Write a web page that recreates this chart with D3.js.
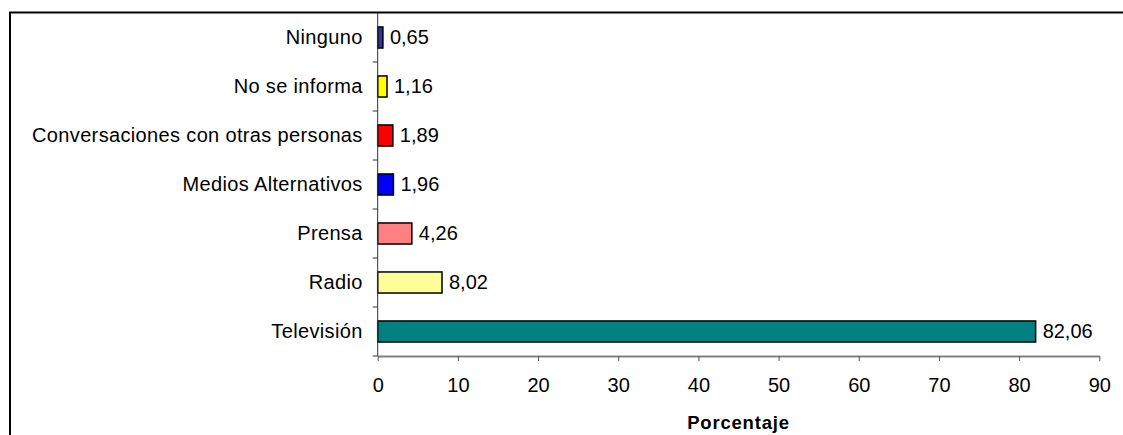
<!DOCTYPE html>
<html>
<head>
<meta charset="utf-8">
<script src="https://cdn.jsdelivr.net/npm/d3@7"></script>
<style>
  body { margin: 0; background: #fff; }
  svg { display: block; font-family: "Liberation Sans", Arial, sans-serif; }
</style>
</head>
<body>
<div id="chart"></div>
<script>
// Chart data
const categories = ['Ninguno', 'No se informa', 'Conversaciones con otras personas',
    'Medios Alternativos', 'Prensa', 'Radio', 'Televisión'];
const values = [0.65, 1.16, 1.89, 1.96, 4.26, 8.02, 82.06];
const barColors = ['#333399', '#FFFF00', '#FF0000', '#0000FF', '#FF8080', '#FFFF99', '#008080'];
const xTicks = [0, 10, 20, 30, 40, 50, 60, 70, 80, 90];
const xTitle = 'Porcentaje';

const width = 1123, height = 435;
const margin = { top: 13, left: 377.7, right: 23.7, bottom: 79 };

const svg = d3.select('#chart')
    .append('svg')
    .attr('width', width)
    .attr('height', height);

// frame (only left and top edges visible)
svg.append('path')
    .attr('d', `M10,${height} L10,12.5 L${width},12.5`)
    .attr('fill', 'none')
    .attr('stroke', '#000')
    .attr('stroke-width', 2);

const xScale = d3.scaleLinear()
    .domain([0, 90])
    .range([margin.left, width - margin.right]);

const yScale = d3.scaleBand()
    .domain(categories)
    .range([margin.top, height - margin.bottom])
    .paddingInner(0.57)
    .paddingOuter(0.285);

const rows = categories.map((c, i) => ({ cat: c, value: values[i], color: barColors[i] }));

// bars
svg.selectAll('rect.bar')
    .data(rows)
    .enter()
    .append('rect')
    .attr('class', 'bar')
    .attr('x', xScale(0))
    .attr('y', d => yScale(d.cat))
    .attr('width', d => xScale(d.value) - xScale(0))
    .attr('height', yScale.bandwidth())
    .attr('fill', d => d.color)
    .attr('stroke', '#000')
    .attr('stroke-width', 1.5);

// value labels
svg.selectAll('text.val')
    .data(rows)
    .enter()
    .append('text')
    .attr('class', 'val')
    .attr('x', d => xScale(d.value) + 7)
    .attr('y', d => yScale(d.cat) + yScale.bandwidth() / 2 + 6)
    .attr('font-size', '20px')
    .attr('fill', '#000')
    .text(d => d.value.toFixed(2).replace('.', ','));

// y axis: line + ticks between categories
const yAxisG = svg.append('g');
const yBottom = height - margin.bottom;
yAxisG.append('line')
    .attr('x1', margin.left).attr('x2', margin.left)
    .attr('y1', margin.top).attr('y2', yBottom)
    .attr('stroke', '#333').attr('stroke-width', 1);

const step = yScale.step();
const boundaries = d3.range(1, categories.length + 1).map(i => margin.top + i * step);
yAxisG.selectAll('line.tick')
    .data(boundaries)
    .enter()
    .append('line')
    .attr('x1', margin.left - 5).attr('x2', margin.left)
    .attr('y1', d => d).attr('y2', d => d)
    .attr('stroke', '#333').attr('stroke-width', 1);

yAxisG.selectAll('text.cat')
    .data(rows)
    .enter()
    .append('text')
    .attr('x', margin.left - 15)
    .attr('y', d => yScale(d.cat) + yScale.bandwidth() / 2 + 6)
    .attr('text-anchor', 'end')
    .attr('font-size', '20px')
    .attr('letter-spacing', '0.35px')
    .attr('fill', '#000')
    .text(d => d.cat);

// x axis
const xAxis = d3.axisBottom(xScale)
    .tickValues(xTicks)
    .tickSize(5)
    .tickPadding(17)
    .tickSizeOuter(0);

const xAxisG = svg.append('g')
    .attr('transform', `translate(0, ${yBottom})`)
    .call(xAxis);

xAxisG.select('.domain').attr('stroke', '#808080').attr('stroke-width', 2);
xAxisG.selectAll('.tick line').attr('stroke', '#555').attr('stroke-width', 1);
xAxisG.selectAll('.tick text')
    .attr('font-size', '20px')
    .attr('font-family', '"Liberation Sans", Arial, sans-serif')
    .attr('fill', '#000');

// x title
svg.append('text')
    .attr('x', (xScale(0) + xScale(90)) / 2)
    .attr('y', 429)
    .attr('text-anchor', 'middle')
    .attr('font-size', '18.5px')
    .attr('font-weight', 'bold')
    .attr('letter-spacing', '0.8px')
    .attr('fill', '#000')
    .text(xTitle);
</script>
</body>
</html>
